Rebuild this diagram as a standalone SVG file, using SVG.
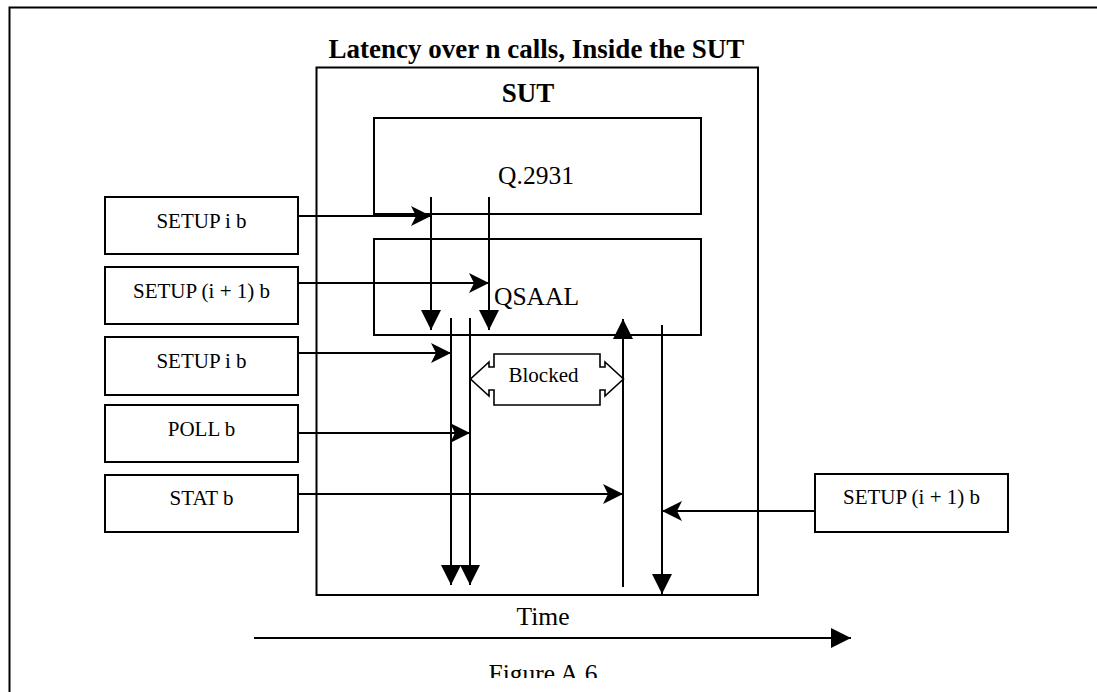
<svg xmlns="http://www.w3.org/2000/svg" width="1097" height="692" viewBox="0 0 1097 692">
<style>
  .box { fill: #fff; stroke: #000; stroke-width: 2; }
  .frame { fill: none; stroke: #000; stroke-width: 2; }
  .lbl { font-family: "Liberation Serif", "Times New Roman", serif; font-size: 21px; fill: #000; text-anchor: middle; }
  .big { font-family: "Liberation Serif", "Times New Roman", serif; font-size: 25.5px; fill: #000; }
  .bold { font-family: "Liberation Serif", "Times New Roman", serif; font-size: 27px; font-weight: bold; fill: #000; text-anchor: middle; }
  .ln { fill: none; stroke: #000; stroke-width: 2; }
  .va { marker-end: url(#tri); }
  .ha { marker-end: url(#stealth); }
</style>
<defs>
  <marker id="tri" viewBox="0 0 20 20" refX="20" refY="10" markerWidth="20" markerHeight="20" markerUnits="userSpaceOnUse" orient="auto">
    <path d="M0,0 L20,10 L0,20 Z" fill="#000"/>
  </marker>
  <marker id="stealth" viewBox="0 0 20 20" refX="20" refY="10" markerWidth="20" markerHeight="20" markerUnits="userSpaceOnUse" orient="auto">
    <path d="M0,0 L20,10 L0,20 L5,10 Z" fill="#000"/>
  </marker>
  <clipPath id="pageClip"><rect x="0" y="0" width="1097" height="678"/></clipPath>
</defs>
<rect width="1097" height="692" fill="#fff"/>

<g id="page-frame">
  <path class="frame" d="M9.5,700 V7.5 H1100"/>
</g>

<g id="title">
  <text class="bold" x="536.5" y="58">Latency over n calls, Inside the SUT</text>
</g>

<g id="sut">
  <rect class="box" x="316.5" y="67.5" width="441.5" height="527.5"/>
  <text class="bold" x="528" y="102">SUT</text>
</g>

<g id="q2931">
  <rect class="box" x="374" y="118" width="327" height="96"/>
  <text class="big" x="536" y="184" text-anchor="middle">Q.2931</text>
</g>

<g id="qsaal">
  <rect class="box" x="374" y="239" width="327" height="96"/>
  <text class="big" x="494" y="305">QSAAL</text>
</g>

<g id="setup-i-1">
  <rect class="box" x="105" y="197" width="193" height="57"/>
  <text class="lbl" x="201.5" y="228">SETUP i b</text>
</g>
<g id="setup-i1-1">
  <rect class="box" x="105" y="267" width="193" height="57"/>
  <text class="lbl" x="201.5" y="298">SETUP (i + 1) b</text>
</g>
<g id="setup-i-2">
  <rect class="box" x="105" y="337" width="193" height="58"/>
  <text class="lbl" x="201.5" y="368">SETUP i b</text>
</g>
<g id="poll">
  <rect class="box" x="105" y="405" width="193" height="57"/>
  <text class="lbl" x="201.5" y="436">POLL b</text>
</g>
<g id="stat">
  <rect class="box" x="105" y="475" width="193" height="57"/>
  <text class="lbl" x="201.5" y="505">STAT b</text>
</g>
<g id="setup-i1-2">
  <rect class="box" x="815" y="474" width="193" height="58"/>
  <text class="lbl" x="911.5" y="504">SETUP (i + 1) b</text>
</g>

<g id="blocked">
  <path fill="#fff" stroke="#000" stroke-width="1.6" d="M494,354 H600 V367 H605 V362 L623.5,379 L605,396 V390 H600 V405 H494 V390 H489 V396 L470.5,379 L489,362 V367 H494 Z"/>
  <text class="lbl" x="543.5" y="382">Blocked</text>
</g>

<g id="connectors">
  <line class="ln ha" x1="298" y1="216" x2="431" y2="216"/>
  <line class="ln ha" x1="298" y1="283" x2="489" y2="283"/>
  <line class="ln ha" x1="298" y1="353" x2="451" y2="353"/>
  <line class="ln ha" x1="298" y1="433" x2="470" y2="433"/>
  <line class="ln ha" x1="298" y1="494" x2="623" y2="494"/>
  <line class="ln ha" x1="815" y1="511" x2="662" y2="511"/>
  <line class="ln va" x1="431" y1="197" x2="431" y2="330"/>
  <line class="ln va" x1="489" y1="197" x2="489" y2="330"/>
  <line class="ln va" x1="451" y1="318" x2="451" y2="585"/>
  <line class="ln va" x1="470" y1="318" x2="470" y2="585"/>
  <line class="ln va" x1="623" y1="587" x2="623" y2="319"/>
  <line class="ln va" x1="662" y1="325" x2="662" y2="594"/>
  <line class="ln va" x1="254" y1="638" x2="851" y2="638"/>
</g>

<g id="time-label">
  <text class="big" x="543" y="625" text-anchor="middle">Time</text>
</g>

<g id="caption" clip-path="url(#pageClip)">
  <text class="big" x="543" y="682" text-anchor="middle" font-size="26">Figure A.6</text>
</g>
</svg>
